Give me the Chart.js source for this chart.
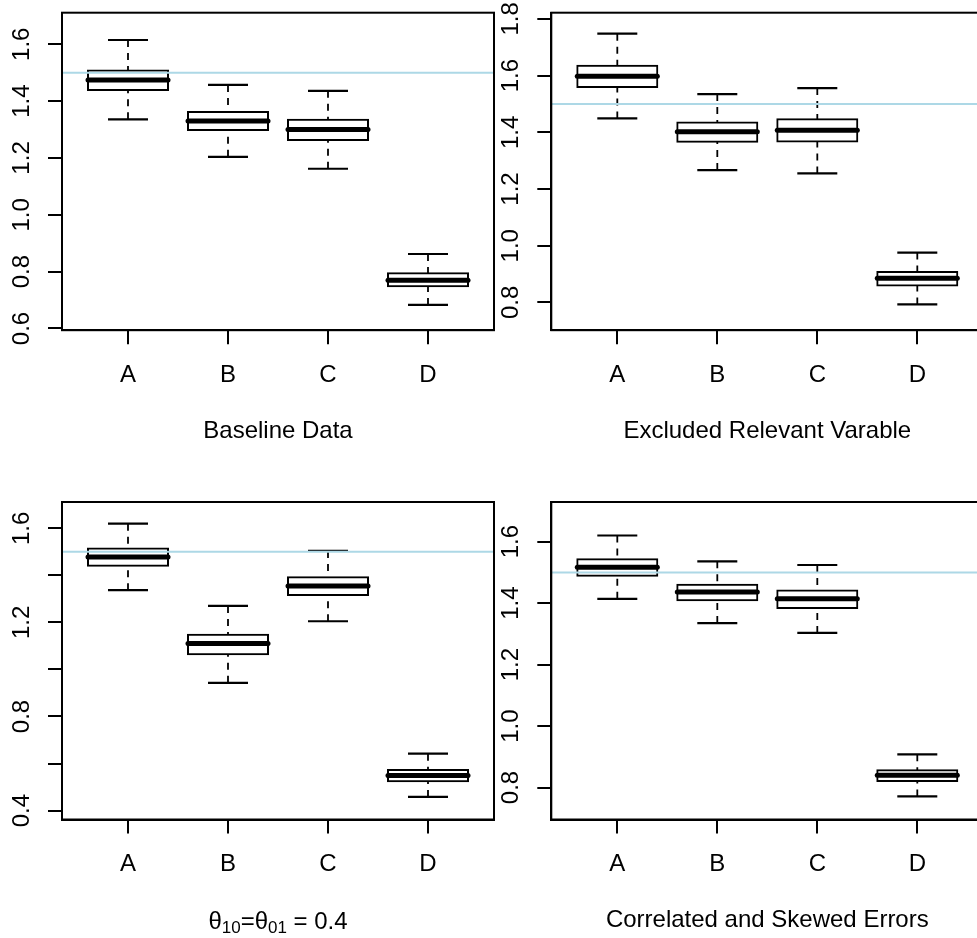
<!DOCTYPE html>
<html>
<head>
<meta charset="utf-8">
<title>Boxplots</title>
<script src="https://cdn.jsdelivr.net/npm/chart.js@4.4.1/dist/chart.umd.min.js"></script>
<style>
  html, body { margin: 0; padding: 0; background: #fff; overflow: hidden; width: 977px; height: 938px; }
  canvas { position: absolute; left: 0; top: 0; }
</style>
</head>
<body>
<canvas id="c1" width="1000" height="938"></canvas>
<canvas id="c2" width="1000" height="938"></canvas>
<canvas id="c3" width="1000" height="938"></canvas>
<canvas id="c4" width="1000" height="938"></canvas>
<script>
const categories = ['A', 'B', 'C', 'D'];
const refValue = 1.5;

// each row: [lower whisker, Q1, median, Q3, upper whisker] for A..D
const baselineStats = [
  [1.336, 1.439, 1.474, 1.508, 1.615],
  [1.204, 1.298, 1.330, 1.362, 1.457],
  [1.162, 1.263, 1.300, 1.334, 1.436],
  [0.683, 0.749, 0.770, 0.794, 0.862],
];
const excludedStats = [
  [1.449, 1.560, 1.598, 1.635, 1.748],
  [1.267, 1.367, 1.402, 1.435, 1.535],
  [1.255, 1.368, 1.407, 1.446, 1.556],
  [0.793, 0.860, 0.885, 0.907, 0.976],
];
const thetaStats = [
  [1.337, 1.441, 1.478, 1.514, 1.620],
  [0.943, 1.065, 1.110, 1.148, 1.270],
  [1.205, 1.317, 1.355, 1.392, 1.504],
  [0.458, 0.525, 0.549, 0.573, 0.642],
];
const skewedStats = [
  [1.414, 1.489, 1.517, 1.543, 1.620],
  [1.335, 1.409, 1.436, 1.460, 1.536],
  [1.303, 1.384, 1.414, 1.441, 1.524],
  [0.771, 0.821, 0.840, 0.856, 0.908],
];

const yTicks1 = [0.6, 0.8, 1.0, 1.2, 1.4, 1.6];
const yLabels1 = ['0.6', '0.8', '1.0', '1.2', '1.4', '1.6'];
const yTicks2 = [0.8, 1.0, 1.2, 1.4, 1.6, 1.8];
const yLabels2 = ['0.8', '1.0', '1.2', '1.4', '1.6', '1.8'];
const yTicks3 = [0.4, 0.6, 0.8, 1.0, 1.2, 1.4, 1.6];
const yLabels3 = ['0.4', '', '0.8', '', '1.2', '', '1.6'];
const yTicks4 = [0.8, 1.0, 1.2, 1.4, 1.6];
const yLabels4 = ['0.8', '1.0', '1.2', '1.4', '1.6'];

const yRange1 = [0.594, 1.711];
const yRange2 = [0.702, 1.822];
const yRange3 = [0.362, 1.712];
const yRange4 = [0.696, 1.729];
const xRange = [0.34, 4.66];

const titles = ['Baseline Data', 'Excluded Relevant Varable', null, 'Correlated and Skewed Errors'];
// theta title pieces: [text, is subscript]
const thetaTitle = [['θ', false], ['10', true], ['=', false], ['θ', false], ['01', true], [' = 0.4', false]];

Chart.defaults.font.family = '"Liberation Sans", Arial, Helvetica, sans-serif';
Chart.defaults.font.size = 24;
Chart.defaults.color = '#000';

const FONT = 24;
const PLOT_W = 432, PLOT_H = 317.5;
const Y_AXIS_W = 62, X_AXIS_H = 115.4;
const CANVAS_W = 1000, CANVAS_H = 938;

const panels = [
  { id: 'c1', stats: baselineStats, ticks: yTicks1, labels: yLabels1, range: yRange1, title: titles[0], left: 62, top: 12.7 },
  { id: 'c2', stats: excludedStats, ticks: yTicks2, labels: yLabels2, range: yRange2, title: titles[1], left: 551.3, top: 12.7 },
  { id: 'c3', stats: thetaStats, ticks: yTicks3, labels: yLabels3, range: yRange3, title: titles[2], left: 62, top: 502 },
  { id: 'c4', stats: skewedStats, ticks: yTicks4, labels: yLabels4, range: yRange4, title: titles[3], left: 551.3, top: 502 },
];

function seg(ctx, x1, y1, x2, y2) {
  ctx.beginPath();
  ctx.moveTo(x1, y1);
  ctx.lineTo(x2, y2);
  ctx.stroke();
}

// whiskers, staples, medians, reference line and frame
function boxParts(p) {
  return {
    id: 'boxParts',
    beforeDatasetsDraw(chart) {
      const { ctx, scales: { x, y } } = chart;
      ctx.save();
      ctx.strokeStyle = '#000';
      p.stats.forEach((s, i) => {
        const cx = x.getPixelForValue(i + 1);
        ctx.lineWidth = 1.8;
        ctx.setLineDash([7, 6]);
        seg(ctx, cx, y.getPixelForValue(s[4]), cx, y.getPixelForValue(s[3]));
        seg(ctx, cx, y.getPixelForValue(s[0]), cx, y.getPixelForValue(s[1]));
        ctx.setLineDash([]);
        ctx.lineWidth = 2.2;
        [s[0], s[4]].forEach(v => {
          const py = y.getPixelForValue(v);
          seg(ctx, x.getPixelForValue(i + 0.8), py, x.getPixelForValue(i + 1.2), py);
        });
      });
      ctx.restore();
    },
    afterDatasetsDraw(chart) {
      const { ctx, chartArea, scales: { x, y } } = chart;
      ctx.save();
      ctx.strokeStyle = '#000';
      ctx.lineWidth = 5;
      ctx.lineCap = 'round';
      p.stats.forEach((s, i) => {
        const py = y.getPixelForValue(s[2]);
        seg(ctx, x.getPixelForValue(i + 0.6), py, x.getPixelForValue(i + 1.4), py);
      });
      ctx.lineCap = 'butt';
      ctx.strokeStyle = '#add8e6';
      ctx.lineWidth = 2;
      const ry = y.getPixelForValue(refValue);
      seg(ctx, chartArea.left, ry, chartArea.right, ry);
      ctx.strokeStyle = '#000';
      ctx.lineWidth = 2;
      ctx.strokeRect(chartArea.left, chartArea.top, chartArea.right - chartArea.left, chartArea.bottom - chartArea.top);
      ctx.restore();
    },
    afterDraw(chart) {
      if (p.title) return;
      // plotmath-like title with subscripts
      const { ctx, scales: { x } } = chart;
      const fam = Chart.defaults.font.family;
      const big = FONT + 'px ' + fam, small = Math.round(FONT * 0.7) + 'px ' + fam;
      ctx.save();
      let total = 0;
      thetaTitle.forEach(([t, sub]) => { ctx.font = sub ? small : big; total += ctx.measureText(t).width; });
      let cx = (x.left + x.right) / 2 - total / 2;
      const base = x.bottom - FONT * 0.6 + FONT * 0.35;
      ctx.fillStyle = '#000';
      ctx.textBaseline = 'alphabetic';
      ctx.textAlign = 'left';
      thetaTitle.forEach(([t, sub]) => {
        ctx.font = sub ? small : big;
        ctx.fillText(t, cx, sub ? base + 4.5 : base);
        cx += ctx.measureText(t).width;
      });
      ctx.restore();
    },
  };
}

const axisGrid = { offset: false, drawOnChartArea: false, drawTicks: true, tickLength: 14, color: '#000', lineWidth: 2 };
const axisBorder = { display: true, color: '#000', width: 2 };

panels.forEach(p => {
  new Chart(document.getElementById(p.id), {
    type: 'bar',
    data: {
      datasets: [{
        data: p.stats.map((s, i) => ({ x: i + 1, y: [s[1], s[3]] })),
        backgroundColor: '#fff',
        borderColor: '#000',
        borderWidth: 2,
        borderSkipped: false,
        inflateAmount: 1,
        categoryPercentage: 1,
        barPercentage: 0.8,
      }],
    },
    options: {
      responsive: false,
      animation: false,
      events: [],
      layout: {
        padding: {
          left: p.left - Y_AXIS_W,
          top: p.top,
          right: CANVAS_W - p.left - PLOT_W,
          bottom: CANVAS_H - p.top - PLOT_H - X_AXIS_H,
        },
      },
      plugins: { legend: { display: false }, tooltip: { enabled: false } },
      scales: {
        x: {
          type: 'linear',
          min: xRange[0],
          max: xRange[1],
          offset: false,
          afterBuildTicks: s => { s.ticks = categories.map((c, i) => ({ value: i + 1 })); },
          afterFit: s => { s.height = X_AXIS_H; s.paddingLeft = 0; s.paddingRight = 0; },
          ticks: { callback: (v, i) => categories[i], padding: 16.6, autoSkip: false, minRotation: 0, maxRotation: 0 },
          grid: axisGrid,
          border: axisBorder,
          title: { display: !!p.title, text: p.title || '', padding: 0, font: { size: FONT } },
        },
        y: {
          type: 'linear',
          min: p.range[0],
          max: p.range[1],
          afterBuildTicks: s => { s.ticks = p.ticks.map(v => ({ value: v })); },
          afterFit: s => { s.width = Y_AXIS_W; s.paddingTop = 0; s.paddingBottom = 0; },
          ticks: { callback: (v, i) => p.labels[i], padding: 9, crossAlign: 'center', minRotation: 90, maxRotation: 90, autoSkip: false },
          grid: axisGrid,
          border: axisBorder,
        },
      },
    },
    plugins: [boxParts(p)],
  });
});
</script>
</body>
</html>
